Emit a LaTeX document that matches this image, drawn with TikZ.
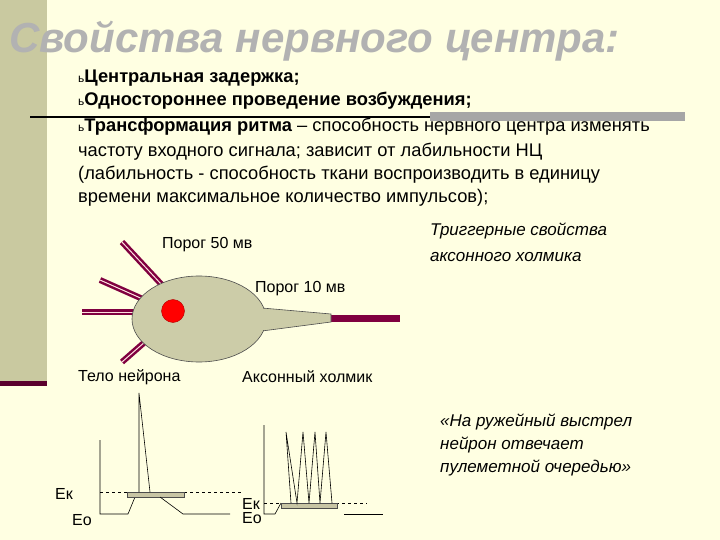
\documentclass[tikz,border=0pt]{standalone}
\usepackage{fontspec}
\setmainfont{Liberation Sans}
\usetikzlibrary{shapes.geometric}
\begin{document}
\begin{tikzpicture}[x=1pt,y=-1pt,
  txt/.style={anchor=west,inner sep=0pt,font=\fontsize{18.3}{20}\selectfont},
  lbl/.style={anchor=west,inner sep=0pt,font=\fontsize{16}{18}\selectfont},
  sig/.style={line width=0.6pt},
  plate/.style={draw=black!70,fill=olive!35!gray!50,line width=0.6pt}]
\definecolor{bg}{HTML}{FFFFE2}
\definecolor{bar}{HTML}{C9C9A0}
\definecolor{dendc}{HTML}{800040}
\definecolor{bodyc}{HTML}{CCCCA8}
\definecolor{navy}{HTML}{1A1A7A}
\fill[bg] (0,0) rectangle (720,540);
\useasboundingbox (0,0) rectangle (720,540);
\fill[bar] (0,0) rectangle (47,383);
\fill[dendc!70!black] (0,381) rectangle (47,386);
\draw[line width=1.5pt] (30,117) -- (430,117);
\fill[gray!70] (430,112) rectangle (685,121);
% title
\node[anchor=west,inner sep=0pt,text=navy,font=\fontsize{42}{44}\bfseries\itshape\selectfont] (title) at (9,41) {\pgfsetfillcolor{gray!60}Свойства нервного центра:};
% list
\node[txt] (l1) at (78,78) {\fontsize{12}{14}\selectfont ь\fontsize{18.3}{20}\selectfont\bfseries Центральная задержка;};
\node[txt] (l2) at (78,101) {\fontsize{12}{14}\selectfont ь\fontsize{18.3}{20}\selectfont\bfseries Одностороннее проведение возбуждения;};
\node[txt] (l3) at (78,127) {\fontsize{12}{14}\selectfont ь\fontsize{18.3}{20}\selectfont\textbf{Трансформация ритма} – способность нервного центра изменять};
\node[txt] (l4) at (78,152) {частоту входного сигнала; зависит от лабильности НЦ};
\node[txt] (l5) at (78,175) {(лабильность - способность ткани воспроизводить в единицу};
\node[txt] (l6) at (78,198) {времени максимальное количество импульсов);};
% neuron
\draw[dendc,line width=6pt] (122,242) -- (162,285);
\draw[pink!50,line width=1pt] (122,242) -- (162,285);
\draw[dendc,line width=6pt] (100,280) -- (145,300);
\draw[pink!50,line width=1pt] (100,280) -- (145,300);
\draw[dendc,line width=6pt] (82,312) -- (136,312);
\draw[pink!50,line width=1pt] (82,312) -- (136,312);
\draw[dendc,line width=6pt] (122,362) -- (146,341);
\draw[pink!50,line width=1pt] (122,362) -- (146,341);
\draw[dendc,line width=7pt] (330,318) -- (400,318);
\fill[bodyc,draw=black!70,line width=0.6pt] (262,308) -- (331,314) -- (331,322) -- (262,331) -- cycle;
\node[ellipse,draw=black!70,fill=bodyc,line width=0.6pt,minimum width=134pt,minimum height=86pt,inner sep=0pt] (soma) at (199,319) {};
\fill[bodyc] (260,309) rectangle (267,330);
\node[circle,fill=red,draw=red!70!black,minimum size=23pt,inner sep=0pt] (nuc) at (173,311) {};
\node[lbl] (p50) at (162,245) {Порог 50 мв};
\node[lbl] (p10) at (255,289) {Порог 10 мв};
\node[lbl] (telo) at (78,377) {Тело нейрона};
\node[lbl] (axh) at (242,377) {Аксонный холмик};
\node[anchor=west,inner sep=0pt,align=left,font=\fontsize{17}{26}\itshape\selectfont] (trig) at (430,242) {Триггерные свойства\\аксонного холмика};
\node[anchor=west,inner sep=0pt,align=left,font=\fontsize{17}{23}\itshape\selectfont] (quote) at (440,445) {«На ружейный выстрел\\нейрон отвечает\\пулеметной очередью»};
% graph 1
\draw[sig] (100,440) -- (100,514) -- (128,514) -- (135,497);
\draw[sig,dashed] (100,492) -- (242,492);
\draw[plate] (127,492) rectangle (184,497);
\draw[sig] (139,492) -- (139,393) -- (150,492);
\draw[sig] (160,497) -- (183,514) -- (230,514);
\node[lbl] (ek1) at (55,494) {Ек};
\node[lbl] (eo1) at (72,520) {Ео};
% graph 2
\draw[sig] (264,425) -- (264,514) -- (275,514) -- (281,503);
\draw[sig,dashed] (264,503) -- (367,503);
\draw[plate] (281,503) rectangle (337,508);
\draw[sig] (291,503) -- (286,432) -- (297,503) -- (303,432) -- (309,503) -- (315,432) -- (320,503) -- (326,432) -- (332,503);
\draw[sig] (344,514) -- (383,514);
\node[lbl] (ek2) at (242,504) {Ек};
\node[lbl] (eo2) at (242,518) {Ео};
\end{tikzpicture}
\end{document}
